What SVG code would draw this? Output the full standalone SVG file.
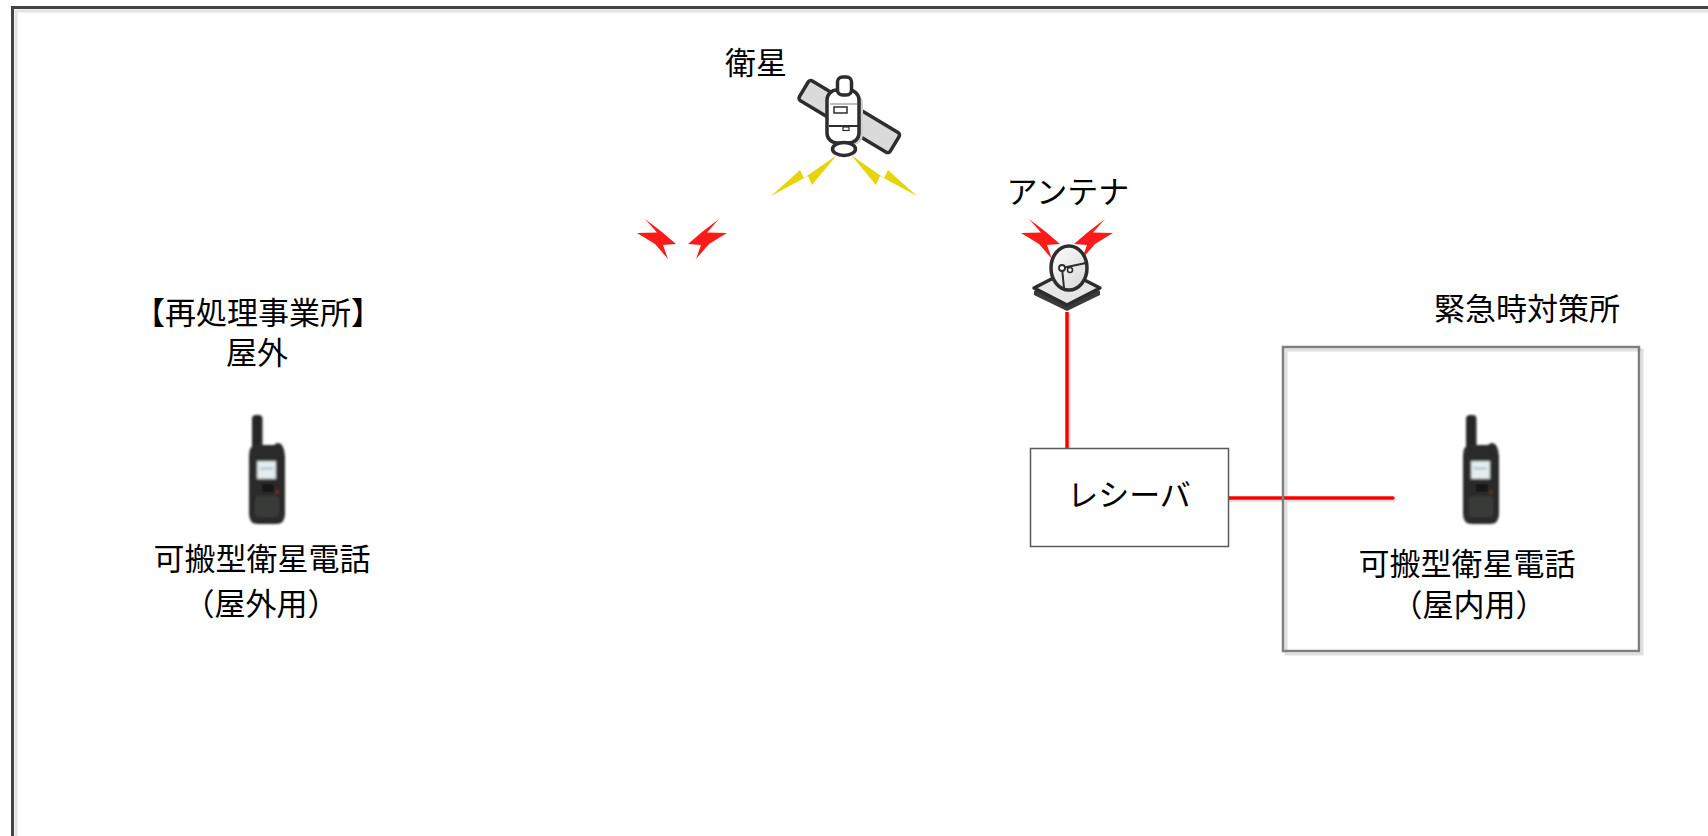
<svg xmlns="http://www.w3.org/2000/svg" width="1708" height="836" viewBox="0 0 1708 836">
  <style>
    .lbl { font-family: "Liberation Sans", "Noto Sans CJK JP", sans-serif; font-size: 31px; fill: #000; text-anchor: middle; }
    .ink { stroke: #2d2d2d; stroke-width: 3.5; stroke-linejoin: round; }
    .wire { stroke: #ff0000; stroke-width: 3.5; fill: none; }
    .wire-shadow { stroke: #e2e2e2; stroke-width: 3.5; fill: none; }
    .bolt-red { fill: #ff1a1a; }
    .bolt-yellow { fill: #e6d40c; }
  </style>
  <defs>
    <filter id="soft" x="-20%" y="-20%" width="140%" height="140%">
      <feGaussianBlur stdDeviation="0.8"/>
    </filter>
    <filter id="softer" x="-20%" y="-20%" width="140%" height="140%">
      <feGaussianBlur stdDeviation="0.7"/>
    </filter>
    <linearGradient id="dishFill" x1="0" y1="0" x2="1" y2="1">
      <stop offset="0" stop-color="#ffffff"/>
      <stop offset="1" stop-color="#d6d6d6"/>
    </linearGradient>
    <!-- handheld satellite phone, drawn at the left position -->
    <g id="phone">
      <rect x="252" y="415" width="10.5" height="37" rx="4" fill="#262826"/>
      <path d="M256,445 L274,445 Q278,441 282,445 Q285,450 285,456 L285,514 Q285,524 276,524 L258,524 Q249,524 249,514 L249,456 Q249,445 256,445 Z" fill="#2a2c2a"/>
      <rect x="257" y="461" width="19" height="18" fill="#e4ecef" stroke="#8a8a8a" stroke-width="1"/>
      <rect x="260" y="467" width="13" height="3" fill="#b9cfd6"/>
      <rect x="262" y="484" width="12" height="8" rx="2" fill="#161616"/>
      <circle cx="277" cy="492" r="1.6" fill="#8a2a2a"/>
      <rect x="255" y="496" width="24" height="21" rx="3" fill="#383a38"/>
    </g>
  </defs>

  <rect width="1708" height="836" fill="#ffffff"/>

  <!-- outer frame -->
  <g id="frame" fill="none">
    <rect x="16" y="11" width="1800" height="900" stroke="#e3e3e3" stroke-width="3"/>
    <rect x="12.5" y="7.5" width="1800" height="900" stroke="#444444" stroke-width="3"/>
  </g>

  <!-- soft drop line behind the office outline -->
  <rect x="1286" y="350" width="356" height="304" fill="none" stroke="#e0e0e0" stroke-width="3"/>

  <!-- connectors -->
  <g id="connectors">
    <line class="wire-shadow" x1="1069" y1="314" x2="1069" y2="449"/>
    <line class="wire-shadow" x1="1229" y1="500.5" x2="1395" y2="500.5"/>
    <line class="wire" x1="1067" y1="312" x2="1067" y2="449"/>
    <line class="wire" x1="1229" y1="498" x2="1393" y2="498" stroke-linecap="round"/>
  </g>

  <!-- satellite -->
  <g id="satellite">
    <text class="lbl" x="756" y="74">衛星</text>
    <g id="satellite-body">
      <rect x="796" y="105" width="106" height="23" rx="3" transform="rotate(31 849 117)" fill="#dadada" class="ink"/>
      <rect x="832" y="93" width="31" height="52" rx="10" fill="#cfcfcf"/>
      <rect x="827" y="90" width="32" height="53" rx="10" fill="#ffffff" class="ink"/>
      <line x1="830" y1="104" x2="857" y2="104" stroke="#bdbdbd" stroke-width="2"/>
      <rect x="834" y="107" width="13" height="6" fill="#ffffff" stroke="#2d2d2d" stroke-width="1.5"/>
      <line x1="829" y1="126" x2="858" y2="126" stroke="#2d2d2d" stroke-width="2"/>
      <rect x="843" y="127" width="6" height="3.5" fill="#ffffff" stroke="#2d2d2d" stroke-width="1.2"/>
      <rect x="837.5" y="77" width="14" height="18" rx="5" fill="#ffffff" class="ink"/>
      <ellipse cx="844" cy="149" rx="11.5" ry="6.5" fill="#ffffff" class="ink"/>
    </g>
    <g id="satellite-signal" filter="url(#softer)">
      <polygon class="bolt-yellow" points="771,196 800,170 804,178 837,155 812,185 808,176"/>
      <polygon class="bolt-yellow" points="917,196 888,170 884,178 851,155 876,185 880,176"/>
    </g>
  </g>

  <!-- radio links between the site and the satellite -->
  <g id="link-signal">
    <polygon class="bolt-red" points="645,219 662,232 676,244 663,245 668,259 655,244 637,233 657,232.5"/>
    <polygon class="bolt-red" points="719,219 702,232 688,244 701,245 696,259 709,244 727,233 707,232.5"/>
  </g>

  <!-- antenna -->
  <g id="antenna">
    <text class="lbl" x="1068" y="203">アンテナ</text>
    <polygon class="bolt-red" points="1029,219 1046,232 1060,244 1047,245 1052,259 1039,244 1021,233 1041,232.5"/>
    <polygon class="bolt-red" points="1105,219 1088,232 1074,244 1087,245 1082,259 1095,244 1113,233 1093,232.5"/>
    <polygon points="1034,291 1067,274 1100,291 1100,295 1067,311 1034,295" fill="#3a3a3a"/>
    <polygon points="1034,288 1067,271 1100,288 1067,305" fill="#e6e6e6" class="ink" stroke-width="2.5"/>
    <ellipse cx="1069" cy="268" rx="18" ry="22" fill="url(#dishFill)" class="ink"/>
    <path d="M1062,268 L1086,263 M1062,268 L1064,288" fill="none" stroke="#2d2d2d" stroke-width="2"/>
    <circle cx="1062" cy="268" r="3" fill="#ffffff" stroke="#2d2d2d" stroke-width="1.8"/>
    <circle cx="1070" cy="270" r="2.5" fill="#ffffff" stroke="#2d2d2d" stroke-width="1.6"/>
  </g>

  <!-- receiver -->
  <g id="receiver">
    <rect x="1030.5" y="448.5" width="198" height="98" fill="#ffffff" stroke="#5a5a5a" stroke-width="1.5"/>
    <text class="lbl" x="1129" y="506">レシーバ</text>
  </g>

  <!-- reprocessing plant, outdoor -->
  <g id="site-outdoor">
    <text class="lbl" x="258" y="324">【再処理事業所】</text>
    <text class="lbl" x="257" y="364">屋外</text>
  </g>

  <g id="phone-outdoor">
    <use href="#phone" filter="url(#soft)"/>
    <text class="lbl" x="262" y="570">可搬型衛星電話</text>
    <text class="lbl" x="261" y="615">（屋外用）</text>
  </g>

  <!-- emergency response office -->
  <g id="emergency-office">
    <text class="lbl" x="1527" y="320">緊急時対策所</text>
    <rect x="1283" y="347" width="356" height="304" fill="none" stroke="#7f7f7f" stroke-width="2.5"/>
  </g>

  <g id="phone-indoor">
    <use href="#phone" transform="translate(1214,0)" filter="url(#soft)"/>
    <text class="lbl" x="1467" y="575">可搬型衛星電話</text>
    <text class="lbl" x="1469" y="616">（屋内用）</text>
  </g>
</svg>
